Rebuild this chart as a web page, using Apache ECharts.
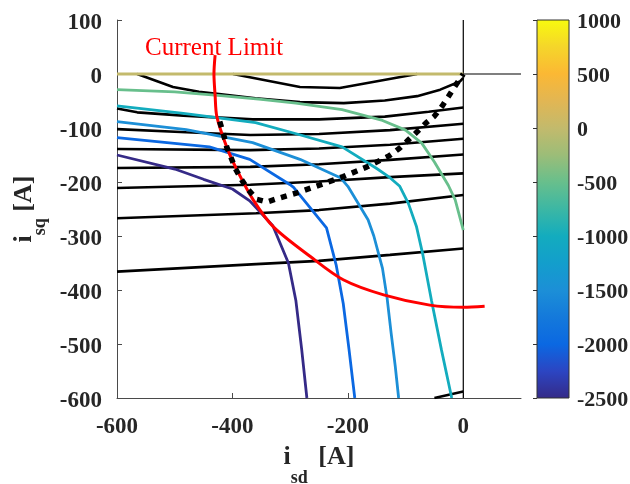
<!DOCTYPE html>
<html><head><meta charset="utf-8">
<script src="https://cdn.jsdelivr.net/npm/echarts@6/dist/echarts.min.js"></script>
<style>html,body{margin:0;padding:0;background:#fff}#c{width:630px;height:484px}</style>
</head><body><div id="c"></div>
<script>
// ---------- data ----------
const xTickValues = [-600, -400, -200, 0];
const yTickValues = [100, 0, -100, -200, -300, -400, -500, -600];
const colorbarTickValues = [1000, 500, 0, -500, -1000, -1500, -2000, -2500];

// black (roughly horizontal) contour lines
const black1 = [[-565,0],[-503,-24],[-458,-33],[-423,-37],[-360,-45],[-283,-52],[-207,-54],[-136,-49],[-80,-41],[-40,-29],[-6,-14],[0,-7]];
const black2 = [[-399,0],[-283,-24],[-214,-26],[-80,0]];
const black3 = [[-600,-64],[-565,-71],[-485,-77],[-365,-84],[-250,-84],[-136,-79],[-60,-70],[0,-62]];
const black4 = [[-600,-102],[-480,-108],[-369,-113],[-250,-111],[-127,-104],[0,-92]];
const black5 = [[-600,-139],[-369,-141],[-250,-138],[-127,-131],[0,-120]];
const black6 = [[-600,-174],[-369,-172],[-250,-167],[-127,-159],[0,-149]];
const black7 = [[-600,-211],[-369,-205],[-250,-199],[-127,-191],[0,-184]];
const black8 = [[-600,-267],[-359,-258],[-250,-252],[-127,-240],[0,-224]];
const black9 = [[-600,-366],[-359,-352],[-250,-346],[-127,-335],[0,-323]];
const black10 = [[-50,-600],[0,-588]];

// coloured contour lines and their levels
const levelOlive = 0, levelGreen = -500, levelTeal = -1000, levelLightBlue = -1500, levelBlue = -2000, levelPurple = -2500;
const curveOlive = [[-600,0],[0,0]];
const curveGreen = [[-600,-29],[-500,-33],[-420,-40],[-350,-47],[-290,-54],[-210,-66],[-140,-86],[-100,-104],[-72,-128],[-50,-163],[-26,-206],[-14,-233],[0,-289]];
const curveTeal = [[-600,-59],[-485,-73],[-360,-90],[-285,-112],[-210,-135],[-150,-175],[-127,-192],[-110,-208],[-95,-240],[-81,-283],[-70,-335],[-55,-420],[-38,-510],[-20,-600]];
const curveLightBlue = [[-600,-88],[-480,-103],[-365,-127],[-283,-158],[-213,-192],[-200,-208],[-165,-270],[-155,-300],[-140,-360],[-132,-415],[-125,-480],[-118,-540],[-112,-600]];
const curveBlue = [[-600,-118],[-440,-135],[-370,-158],[-300,-205],[-294,-210],[-237,-285],[-220,-355],[-208,-425],[-198,-510],[-188,-600]];
const curvePurple = [[-600,-150],[-500,-176],[-450,-195],[-400,-213],[-370,-235],[-330,-281],[-303,-350],[-290,-420],[-280,-510],[-271,-600]];

// current limit (red)
const currentLimit = [[-430,35],[-432,0],[-430,-40],[-427,-79],[-410,-135],[-392,-178],[-364,-233],[-329,-283],[-265,-338],[-208,-381],[-138,-409],[-58,-428],[0,-432],[37,-430]];
// dotted trajectory
const trajectory = [[-422,-88],[-415,-113],[-410,-135],[-402,-156],[-395,-175],[-384,-196],[-372,-215],[-358,-232],[-340,-237],[-320,-230],[-288,-220],[-242,-203],[-208,-190],[-167,-172],[-129,-152],[-111,-138],[-95,-122],[-80,-107],[-65,-91],[-50,-78],[-37,-60],[-26,-42],[-14,-22],[0,0]];
// zero reference lines
const zeroVertical = [[0,100],[0,-600]];
const zeroHorizontal = [[0,0],[100,0]];

const colorbarRange = [-2500, 1000];
const annotationText = 'Current Limit';

// ---------- style ----------
const SERIF = "'Liberation Serif','Times New Roman',serif";
const cmapStops = [
  [-2500,'#352a87'],[-2250,'#2c45c2'],[-2000,'#0b68e2'],[-1750,'#1479db'],[-1500,'#1c8fd7'],
  [-1250,'#139ecc'],[-1000,'#13acbe'],[-750,'#3cb7a4'],[-500,'#68bf8c'],[-250,'#9cbd78'],
  [0,'#c3ba6c'],[250,'#e2b653'],[500,'#fbb834'],[750,'#f5d62a'],[1000,'#f8fa0e']
];
function hex2rgb(h){return [1,3,5].map(i=>parseInt(h.substr(i,2),16));}
function lvlColor(v){
  for(let i=0;i<cmapStops.length-1;i++){
    const [a,ca]=cmapStops[i],[b,cb]=cmapStops[i+1];
    if(v>=a&&v<=b){const t=(v-a)/(b-a);const A=hex2rgb(ca),B=hex2rgb(cb);
      return 'rgb('+A.map((x,k)=>Math.round(x+(B[k]-x)*t)).join(',')+')';}
  }
  return cmapStops[v<cmapStops[0][0]?0:cmapStops.length-1][1];
}
function ln(data,color,width,z,extra){
  return Object.assign({type:'line',data:data,showSymbol:false,symbol:'none',silent:true,
    lineStyle:{color:color,width:width},itemStyle:{color:color},z:z,animation:false},extra||{});
}
const plain = v => String(v);
const labelStyle = {fontFamily:SERIF,fontWeight:'bold',fontSize:23,color:'#262626',formatter:plain};
const axisLineStyle = {color:'#4a4a4a',width:1};
const txt = {fontFamily:SERIF,fontWeight:'bold',color:'#262626'};
const nameRichX = {
  m:Object.assign({fontSize:26,lineHeight:28,verticalAlign:'top'},txt),
  a:Object.assign({fontSize:26,lineHeight:28,verticalAlign:'top',padding:[0,0,0,4]},txt),
  s:Object.assign({fontSize:18,lineHeight:18,verticalAlign:'top',padding:[25,0,0,0]},txt)
};
const nameRichY = {
  m:Object.assign({fontSize:26,lineHeight:28,verticalAlign:'top'},txt),
  a:Object.assign({fontSize:26,lineHeight:28,verticalAlign:'top'},txt),
  s:Object.assign({fontSize:18,lineHeight:18,verticalAlign:'top',padding:[20,0,0,0]},txt)
};

const chart = echarts.init(document.getElementById('c'));
const cbStops = cmapStops.map(([v,c])=>({offset:(v-colorbarRange[0])/(colorbarRange[1]-colorbarRange[0]),color:c}));

const option = {
  animation:false,
  backgroundColor:'#fff',
  grid:[
    {left:117,top:20,width:404,height:378,containLabel:false,outerBoundsMode:'none'},
    {left:537,top:20,width:32,height:378,containLabel:false,outerBoundsMode:'none'}
  ],
  xAxis:[
    {type:'value',gridIndex:0,min:-600,max:100,interval:200,
     axisLine:{show:true,onZero:false,lineStyle:axisLineStyle},
     axisTick:{show:true,inside:true,length:5,lineStyle:axisLineStyle,customValues:xTickValues},
     axisLabel:Object.assign({margin:18,customValues:xTickValues},labelStyle),
     splitLine:{show:false},
     name:'{m|i}{s|sd}{a| [A]}',nameLocation:'middle',nameGap:45,
     nameTextStyle:{rich:nameRichX}},
    {type:'value',gridIndex:1,min:0,max:1,show:false}
  ],
  yAxis:[
    {type:'value',gridIndex:0,min:-600,max:100,interval:100,
     axisLine:{show:true,onZero:false,lineStyle:axisLineStyle},
     axisTick:{show:true,inside:true,length:5,lineStyle:axisLineStyle,customValues:yTickValues},
     axisLabel:Object.assign({margin:15,customValues:yTickValues,verticalAlign:'top',lineHeight:6},labelStyle),
     splitLine:{show:false},
     name:'{m|i}{s|sq}{a| [A]}',nameLocation:'middle',nameGap:70,
     nameTextStyle:{rich:nameRichY}},
    {type:'value',gridIndex:1,position:'right',min:colorbarRange[0],max:colorbarRange[1],interval:500,
     axisLine:{show:false},
     axisTick:{show:true,inside:true,length:4,lineStyle:{color:'#333',width:1},customValues:colorbarTickValues},
     axisLabel:Object.assign({margin:8,customValues:colorbarTickValues,verticalAlign:'top',lineHeight:4},labelStyle,{fontSize:22}),
     splitLine:{show:false}}
  ],
  graphic:[
    {type:'text',left:145,top:36,z:100,silent:true,
     style:{text:annotationText,fill:'#ff0000',font:'25px '+SERIF}}
  ],
  series:[
    ln(black1,'#000',2.6,2), ln(black2,'#000',2.6,2), ln(black3,'#000',2.6,2), ln(black4,'#000',2.6,2),
    ln(black5,'#000',2.6,2), ln(black6,'#000',2.6,2), ln(black7,'#000',2.6,2), ln(black8,'#000',2.6,2),
    ln(black9,'#000',2.6,2), ln(black10,'#000',2.6,2),
    ln(zeroVertical,'#000',1.2,3), ln(zeroHorizontal,'#000',1.2,3),
    ln(curveOlive,lvlColor(levelOlive),3.2,4),
    ln(curveGreen,lvlColor(levelGreen),2.8,4),
    ln(curveTeal,lvlColor(levelTeal),2.8,4),
    ln(curveLightBlue,lvlColor(levelLightBlue),2.8,4),
    ln(curveBlue,lvlColor(levelBlue),2.8,4),
    ln(curvePurple,lvlColor(levelPurple),2.8,4),
    ln(currentLimit,'#ff0000',3,5,{smooth:0.3}),
    ln(trajectory,'#000',5.5,6,{lineStyle:{color:'#000',width:5.5,type:[6,6.5]}}),
    {type:'custom',xAxisIndex:1,yAxisIndex:1,silent:true,z:2,
     data:[[0,1,colorbarRange[0],colorbarRange[1]]],
     renderItem:function(params,api){
       const p0=api.coord([api.value(0),api.value(2)]);
       const p1=api.coord([api.value(1),api.value(3)]);
       return {type:'rect',shape:{x:p0[0],y:p1[1],width:p1[0]-p0[0],height:p0[1]-p1[1]},
         style:{fill:new echarts.graphic.LinearGradient(0,1,0,0,cbStops),stroke:'#333',lineWidth:1}};
     }}
  ]
};
chart.setOption(option);
</script></body></html>
